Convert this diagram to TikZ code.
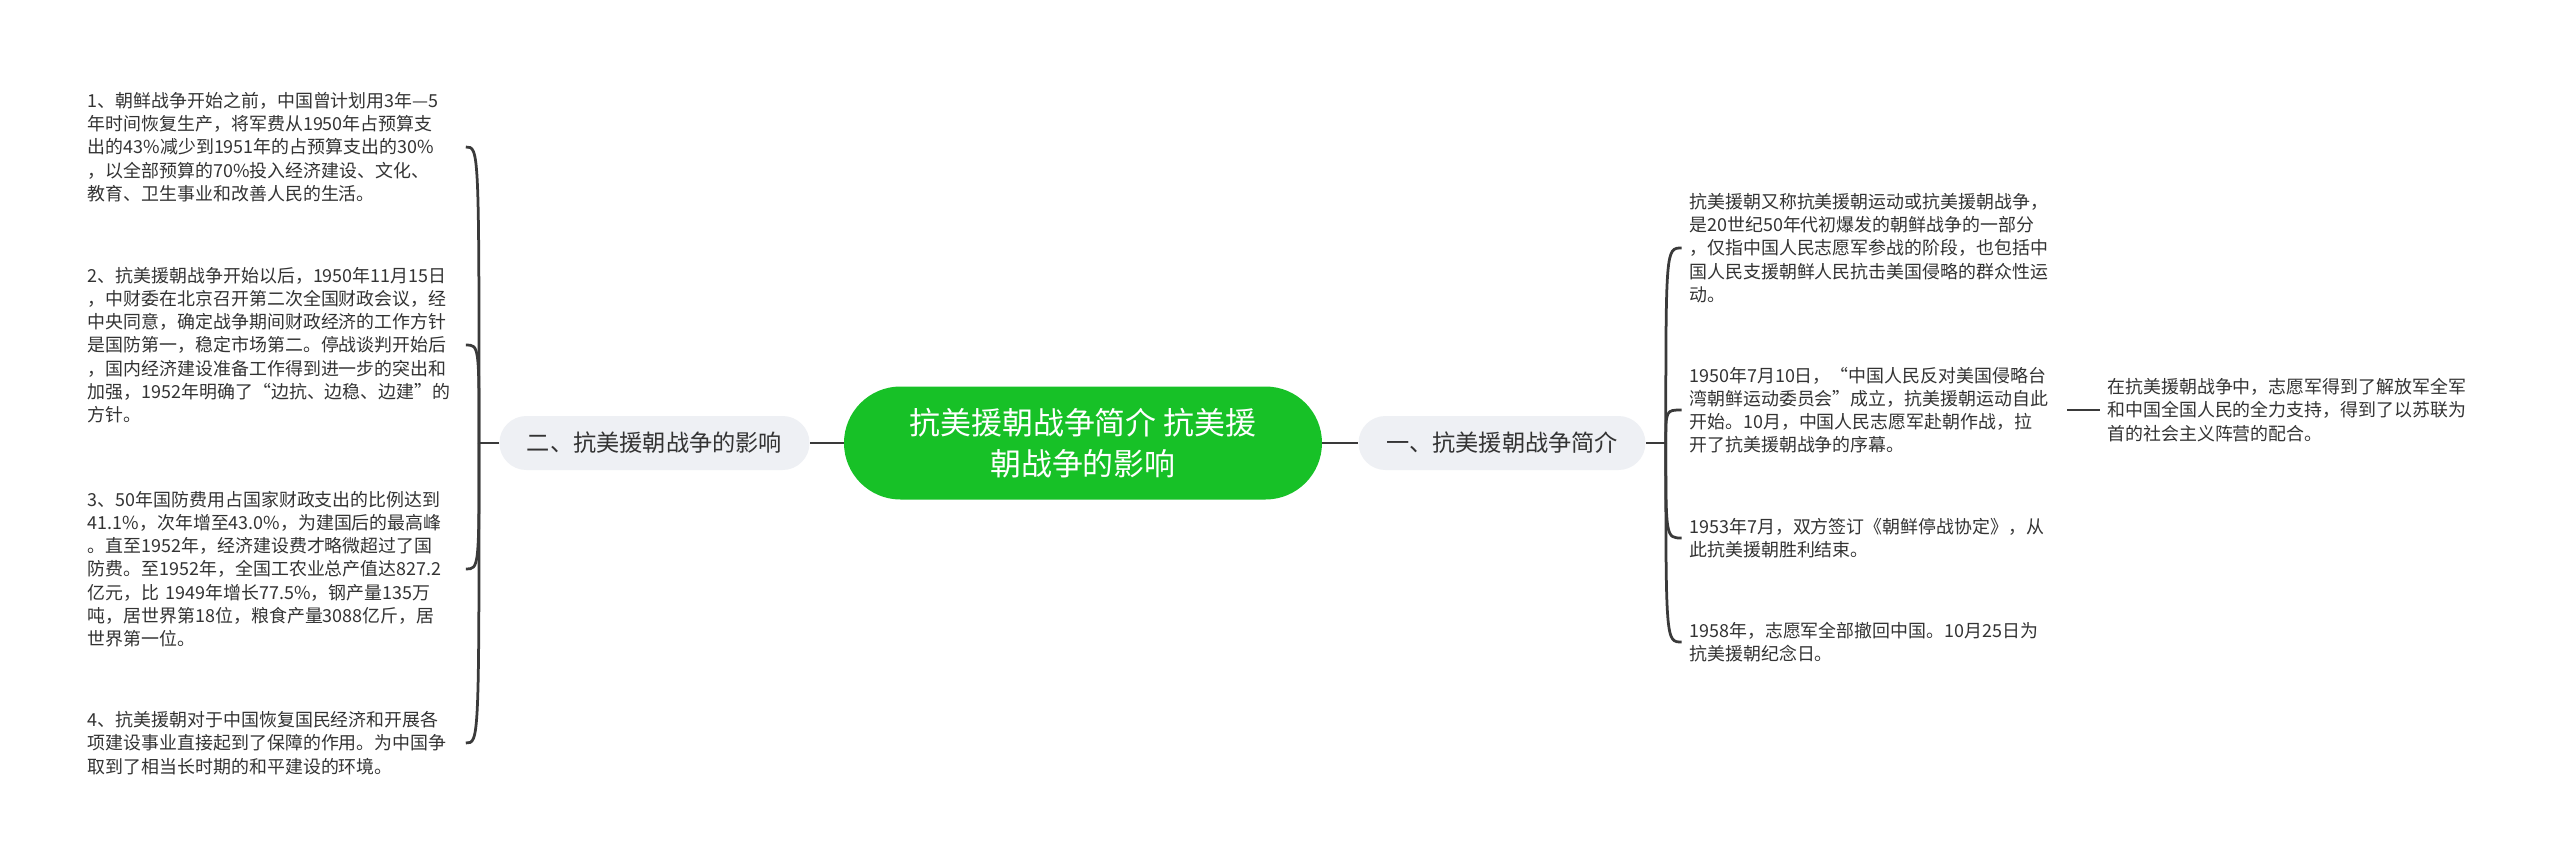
\documentclass[tikz,border=0pt]{standalone}
\usepackage{fontspec}
\setmainfont{Noto Sans CJK SC}
\usetikzlibrary{positioning,calc}

\definecolor{ink}{RGB}{51,51,51}
\definecolor{linkgray}{RGB}{58,58,58}
\definecolor{rootgreen}{RGB}{23,193,39}
\definecolor{branchgray}{RGB}{238,240,244}

\begin{document}
\begin{tikzpicture}[
    topic/.style={rectangle, fill=rootgreen, rounded corners=11.3mm,
                  minimum width=95.6mm, minimum height=22.6mm, align=center,
                  text=white, font=\fontsize{17.6}{23.3}\selectfont},
    branch/.style={rectangle, fill=branchgray, rounded corners=5.4mm,
                   minimum height=10.8mm, inner xsep=5.5mm, text=ink,
                   font=\fontsize{13.2}{16}\selectfont},
    leaf/.style={align=left, text width=74mm, inner xsep=1.5mm, inner ysep=1mm,
                 text=ink, font=\fontsize{10.2}{13.2}\selectfont},
    link/.style={draw=linkgray, line width=0.55mm}
]
\path[use as bounding box, fill=white] (-216.6mm,-84.2mm) rectangle (295.4mm,88.6mm);

\node[topic] (topic) at (0mm,0mm)
    {抗美援朝战争简介 抗美援\\朝战争的影响};
\node[branch] (impact) at (-85.7mm,0mm) {二、抗美援朝战争的影响};
\node[branch] (intro) at (83.8mm,0mm) {一、抗美援朝战争简介};

% left side leaves
\node[leaf] (imp1) at (-162mm,59.2mm)
    {1、朝鲜战争开始之前，中国曾计划用3年—5\\
     年时间恢复生产，将军费从1950年占预算支\\
     出的43\%减少到1951年的占预算支出的30\%\\
     ，以全部预算的70\%投入经济建设、文化、\\
     教育、卫生事业和改善人民的生活。};
\node[leaf] (imp2) at (-162mm,19.6mm)
    {2、抗美援朝战争开始以后，1950年11月15日\\
     ，中财委在北京召开第二次全国财政会议，经\\
     中央同意，确定战争期间财政经济的工作方针\\
     是国防第一，稳定市场第二。停战谈判开始后\\
     ，国内经济建设准备工作得到进一步的突出和\\
     加强，1952年明确了“边抗、边稳、边建”的\\
     方针。};
\node[leaf] (imp3) at (-162mm,-25.2mm)
    {3、50年国防费用占国家财政支出的比例达到\\
     41.1\%，次年增至43.0\%，为建国后的最高峰\\
     。直至1952年，经济建设费才略微超过了国\\
     防费。至1952年，全国工农业总产值达827.2\\
     亿元，比 1949年增长77.5\%，钢产量135万\\
     吨，居世界第18位，粮食产量3088亿斤，居\\
     世界第一位。};
\node[leaf] (imp4) at (-162mm,-60mm)
    {4、抗美援朝对于中国恢复国民经济和开展各\\
     项建设事业直接起到了保障的作用。为中国争\\
     取到了相当长时期的和平建设的环境。};

% right side leaves
\node[leaf] (int1) at (158.3mm,39mm)
    {抗美援朝又称抗美援朝运动或抗美援朝战争，\\
     是20世纪50年代初爆发的朝鲜战争的一部分\\
     ，仅指中国人民志愿军参战的阶段，也包括中\\
     国人民支援朝鲜人民抗击美国侵略的群众性运\\
     动。};
\node[leaf] (int2) at (158.3mm,6.6mm)
    {1950年7月10日，“中国人民反对美国侵略台\\
     湾朝鲜运动委员会”成立，抗美援朝运动自此\\
     开始。10月，中国人民志愿军赴朝作战，拉\\
     开了抗美援朝战争的序幕。};
\node[leaf] (int3) at (158.3mm,-19mm)
    {1953年7月，双方签订《朝鲜停战协定》，从\\
     此抗美援朝胜利结束。};
\node[leaf] (int4) at (158.3mm,-39.8mm)
    {1958年，志愿军全部撤回中国。10月25日为\\
     抗美援朝纪念日。};
\node[leaf] (support) at (241.9mm,6.6mm)
    {在抗美援朝战争中，志愿军得到了解放军全军\\
     和中国全国人民的全力支持，得到了以苏联为\\
     首的社会主义阵营的配合。};

\coordinate (lt) at ([xshift=-4mm]impact.west);
\coordinate (rt) at ([xshift=4mm]intro.east);

\draw[link] (topic.west) -- (impact.east);
\draw[link] (topic.east) -- (intro.west);

\draw[link] (impact.west) -- (lt);
\draw[link] (lt) .. controls (lt |- imp1.east) .. (imp1.east);
\draw[link] (lt) .. controls (lt |- imp2.east) .. (imp2.east);
\draw[link] (lt) .. controls (lt |- imp3.east) .. (imp3.east);
\draw[link] (lt) .. controls (lt |- imp4.east) .. (imp4.east);

\draw[link] (intro.east) -- (rt);
\draw[link] (rt) .. controls (rt |- int1.west) .. (int1.west);
\draw[link] (rt) .. controls (rt |- int2.west) .. (int2.west);
\draw[link] (rt) .. controls (rt |- int3.west) .. (int3.west);
\draw[link] (rt) .. controls (rt |- int4.west) .. (int4.west);

\draw[link] (int2.east) -- (support.west);
\end{tikzpicture}
\end{document}
